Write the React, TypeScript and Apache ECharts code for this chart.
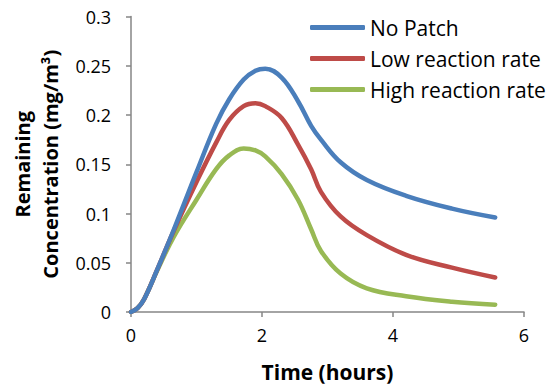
import React, { useEffect, useRef } from "react";
import * as echarts from "echarts";

const timeHours = [0, 0.1, 0.2, 0.4, 0.65, 1.0, 1.3, 1.5, 1.72, 1.9, 2.05, 2.3, 2.55, 2.75, 2.9, 3.2, 3.6, 4.2, 4.9, 5.56];
const noPatch = [0, 0.004, 0.013, 0.043, 0.083, 0.142, 0.191, 0.216, 0.236, 0.245, 0.247, 0.238, 0.214, 0.189, 0.175, 0.152, 0.134, 0.118, 0.105, 0.096];
const lowRate = [0, 0.004, 0.013, 0.043, 0.082, 0.132, 0.172, 0.195, 0.209, 0.212, 0.209, 0.197, 0.170, 0.145, 0.122, 0.097, 0.078, 0.058, 0.045, 0.035];
const highRate = [0, 0.004, 0.013, 0.042, 0.076, 0.114, 0.145, 0.159, 0.166, 0.164, 0.158, 0.140, 0.114, 0.084, 0.062, 0.039, 0.024, 0.016, 0.0105, 0.0074];
const seriesNames = ["No Patch", "Low reaction rate", "High reaction rate"];
const seriesColors = ["#4A7EBB", "#BE4B48", "#98B954"];

const FONT = "Open Sans";

export default function App() {
  const ref = useRef<HTMLDivElement>(null);
  useEffect(() => {
    if (!ref.current) return;
    const chart = echarts.init(ref.current, null, { renderer: "svg" });
    const all = [noPatch, lowRate, highRate];
    chart.setOption({
      animation: false,
      backgroundColor: "#ffffff",
      grid: { left: 131, right: 29, top: 16.5, bottom: 74.7 },
      legend: {
        orient: "vertical",
        left: 305,
        top: 12,
        itemWidth: 55,
        itemHeight: 5,
        itemGap: 10,
        icon: "roundRect",
        textStyle: { fontFamily: FONT, fontSize: 21, color: "#000" },
        data: seriesNames,
      },
      xAxis: {
        type: "value",
        min: 0,
        max: 6,
        interval: 2,
        name: "Time (hours)",
        nameLocation: "middle",
        nameGap: 49,
        nameTextStyle: { fontFamily: FONT, fontSize: 21, fontWeight: "bold", color: "#000" },
        axisLine: { lineStyle: { color: "#868686", width: 1.5 } },
        axisTick: { show: true, inside: false, length: 5, lineStyle: { color: "#868686", width: 1.5 } },
        axisLabel: { fontFamily: FONT, fontSize: 18, color: "#000", margin: 14 },
        splitLine: { show: false },
      },
      yAxis: {
        type: "value",
        min: 0,
        max: 0.3,
        interval: 0.05,
        name: "Remaining\nConcentration (mg/m³)",
        nameLocation: "middle",
        nameRotate: 90,
        nameGap: 64,
        nameTextStyle: { fontFamily: FONT, fontSize: 20, fontWeight: "bold", color: "#000", lineHeight: 28 },
        axisLine: { show: true, lineStyle: { color: "#868686", width: 1.5 } },
        axisTick: { show: true, inside: false, length: 5, lineStyle: { color: "#868686", width: 1.5 } },
        axisLabel: { fontFamily: FONT, fontSize: 18, color: "#000", margin: 20 },
        splitLine: { show: false },
      },
      series: all.map((vals, i) => ({
        name: seriesNames[i],
        type: "line",
        data: timeHours.map((t, j) => [t, vals[j]]),
        smooth: 0.4,
        showSymbol: false,
        symbol: "none",
        lineStyle: { color: seriesColors[i], width: 4.5, cap: "round", join: "round" },
        itemStyle: { color: seriesColors[i] },
        z: 3 - i,
      })),
    });
    return () => chart.dispose();
  }, []);
  return <div ref={ref} style={{ position: "fixed", left: 0, top: 0, width: 553, height: 387 }} />;
}
